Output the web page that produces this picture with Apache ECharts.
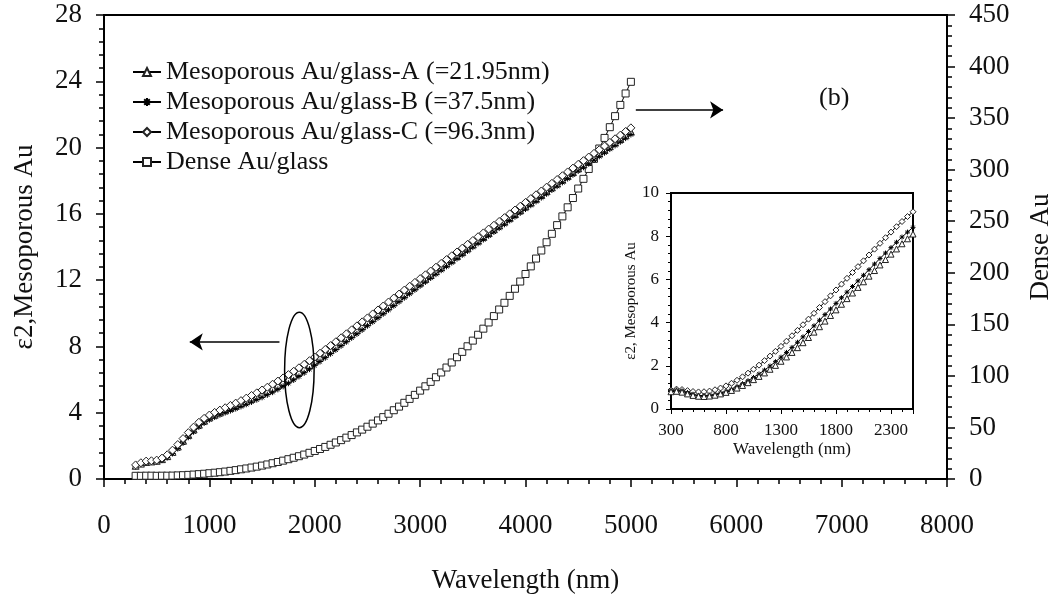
<!doctype html>
<html>
<head>
<meta charset="utf-8">
<title>ε2 Mesoporous Au / Dense Au</title>
<script src="https://cdn.jsdelivr.net/npm/echarts@6/dist/echarts.min.js"></script>
</head>
<body style="margin:0;background:#fff;">
<div id="container" style="width:1062px;height:599px;"></div>
<script type="text/javascript">
    // main plot, wavelength (nm)
    var wavelength = [300, 350, 400, 450, 500, 550, 600, 650, 700, 750, 800, 850, 900, 950, 1000,
        1050, 1100, 1150, 1200, 1250, 1300, 1350, 1400, 1450, 1500, 1550, 1600, 1650, 1700, 1750,
        1800, 1850, 1900, 1950, 2000, 2050, 2100, 2150, 2200, 2250, 2300, 2350, 2400, 2450, 2500,
        2550, 2600, 2650, 2700, 2750, 2800, 2850, 2900, 2950, 3000, 3050, 3100, 3150, 3200, 3250,
        3300, 3350, 3400, 3450, 3500, 3550, 3600, 3650, 3700, 3750, 3800, 3850, 3900, 3950, 4000,
        4050, 4100, 4150, 4200, 4250, 4300, 4350, 4400, 4450, 4500, 4550, 4600, 4650, 4700, 4750,
        4800, 4850, 4900, 4950, 5000];
    // ε2 mesoporous Au (left axis)
    var glassA = [0.80, 0.93, 1.03, 1.06, 1.10, 1.20, 1.38, 1.64, 1.96, 2.31, 2.66, 2.99, 3.28, 3.52, 3.72,
        3.88, 4.02, 4.15, 4.28, 4.41, 4.55, 4.69, 4.84, 4.99, 5.15, 5.31, 5.48, 5.66, 5.85, 6.04,
        6.24, 6.45, 6.66, 6.88, 7.10, 7.33, 7.56, 7.79, 8.02, 8.26, 8.50, 8.74, 8.98, 9.22, 9.46,
        9.70, 9.94, 10.18, 10.42, 10.66, 10.90, 11.14, 11.38, 11.62, 11.85, 12.08, 12.31, 12.54, 12.77, 13.00,
        13.23, 13.46, 13.69, 13.92, 14.15, 14.38, 14.61, 14.84, 15.07, 15.30, 15.53, 15.76, 15.99, 16.22, 16.45,
        16.68, 16.91, 17.14, 17.37, 17.60, 17.83, 18.06, 18.29, 18.52, 18.75, 18.98, 19.20, 19.42, 19.64, 19.86,
        20.08, 20.30, 20.52, 20.74, 20.96];
    var glassB = [0.76, 0.90, 1.00, 1.03, 1.06, 1.14, 1.30, 1.54, 1.84, 2.18, 2.52, 2.85, 3.14, 3.38, 3.58,
        3.74, 3.88, 4.01, 4.13, 4.25, 4.38, 4.51, 4.65, 4.79, 4.93, 5.08, 5.24, 5.41, 5.59, 5.78,
        5.98, 6.19, 6.41, 6.63, 6.86, 7.09, 7.32, 7.56, 7.80, 8.04, 8.28, 8.52, 8.76, 9.00, 9.25,
        9.49, 9.73, 9.97, 10.21, 10.46, 10.70, 10.94, 11.18, 11.42, 11.66, 11.89, 12.13, 12.36, 12.60, 12.83,
        13.06, 13.30, 13.53, 13.76, 13.99, 14.22, 14.45, 14.68, 14.91, 15.14, 15.37, 15.60, 15.83, 16.06, 16.29,
        16.52, 16.75, 16.98, 17.21, 17.44, 17.67, 17.90, 18.13, 18.36, 18.59, 18.81, 19.03, 19.25, 19.47, 19.69,
        19.91, 20.13, 20.35, 20.57, 20.79];
    var glassC = [0.85, 0.98, 1.08, 1.10, 1.14, 1.26, 1.46, 1.74, 2.08, 2.44, 2.80, 3.13, 3.42, 3.66, 3.86,
        4.02, 4.16, 4.30, 4.44, 4.58, 4.73, 4.88, 5.04, 5.20, 5.37, 5.54, 5.72, 5.91, 6.10, 6.30,
        6.50, 6.71, 6.92, 7.14, 7.36, 7.59, 7.82, 8.05, 8.28, 8.52, 8.76, 9.00, 9.24, 9.48, 9.72,
        9.96, 10.20, 10.44, 10.68, 10.92, 11.16, 11.40, 11.63, 11.86, 12.09, 12.32, 12.55, 12.78, 13.01, 13.24,
        13.47, 13.70, 13.93, 14.16, 14.39, 14.62, 14.85, 15.08, 15.31, 15.54, 15.77, 16.00, 16.23, 16.46, 16.69,
        16.92, 17.15, 17.38, 17.61, 17.84, 18.07, 18.30, 18.53, 18.76, 18.99, 19.21, 19.43, 19.65, 19.87, 20.09,
        20.31, 20.53, 20.75, 20.97, 21.19];
    // ε2 dense Au (right axis)
    var denseAu = [3.1, 3.1, 3.2, 3.2, 3.1, 3.2, 3.2, 3.3, 3.5, 3.7, 4.0, 4.3, 4.7, 5.1, 5.6,
        6.1, 6.6, 7.2, 7.9, 8.6, 9.4, 10.2, 11.1, 12.0, 13.0, 14.1, 15.3, 16.5, 17.8, 19.2,
        20.6, 22.1, 23.7, 25.4, 27.2, 29.1, 31.1, 33.2, 35.4, 37.7, 40.1, 42.6, 45.2, 47.9, 50.7,
        53.7, 56.8, 60.0, 63.3, 66.7, 70.2, 73.9, 77.7, 81.6, 85.7, 89.9, 94.2, 98.7, 103.3, 108.1,
        113.0, 118.1, 123.3, 128.7, 134.2, 139.9, 145.8, 151.8, 158.0, 164.4, 170.9, 177.6, 184.5, 191.5, 198.8,
        206.2, 213.8, 221.6, 229.6, 237.8, 246.2, 254.7, 263.5, 272.5, 281.7, 291.1, 300.7, 310.5, 320.5, 330.8,
        341.2, 351.9, 362.8, 373.9, 385.2];

    // inset
    var insetWavelength = [300, 350, 400, 450, 500, 550, 600, 650, 700, 750, 800, 850, 900, 950, 1000,
        1050, 1100, 1150, 1200, 1250, 1300, 1350, 1400, 1450, 1500, 1550, 1600, 1650, 1700, 1750,
        1800, 1850, 1900, 1950, 2000, 2050, 2100, 2150, 2200, 2250, 2300, 2350, 2400, 2450, 2500];
    var insetA = [0.80, 0.82, 0.78, 0.70, 0.63, 0.59, 0.58, 0.60, 0.64, 0.70, 0.77, 0.86, 0.97, 1.09, 1.22,
        1.36, 1.51, 1.67, 1.84, 2.02, 2.21, 2.41, 2.62, 2.84, 3.07, 3.31, 3.56, 3.81, 4.07, 4.33,
        4.59, 4.85, 5.11, 5.37, 5.63, 5.89, 6.15, 6.41, 6.67, 6.92, 7.17, 7.41, 7.65, 7.88, 8.10];
    var insetB = [0.85, 0.88, 0.84, 0.76, 0.68, 0.63, 0.62, 0.64, 0.68, 0.74, 0.82, 0.92, 1.04, 1.17, 1.31,
        1.46, 1.62, 1.80, 1.99, 2.19, 2.40, 2.62, 2.85, 3.09, 3.34, 3.59, 3.85, 4.11, 4.37, 4.63,
        4.89, 5.15, 5.41, 5.67, 5.93, 6.19, 6.45, 6.71, 6.97, 7.22, 7.47, 7.72, 7.96, 8.19, 8.41];
    var insetC = [0.88, 0.92, 0.90, 0.85, 0.81, 0.79, 0.80, 0.83, 0.89, 0.97, 1.07, 1.19, 1.33, 1.49, 1.66,
        1.84, 2.03, 2.24, 2.45, 2.67, 2.90, 3.14, 3.39, 3.64, 3.90, 4.16, 4.43, 4.70, 4.97, 5.24,
        5.51, 5.78, 6.05, 6.32, 6.59, 6.86, 7.13, 7.40, 7.67, 7.93, 8.19, 8.44, 8.68, 8.91, 9.13];

    var names = ['Mesoporous Au/glass-A (=21.95nm)', 'Mesoporous Au/glass-B (=37.5nm)',
        'Mesoporous Au/glass-C (=96.3nm)', 'Dense Au/glass'];

    var serif = "'Liberation Serif', 'Times New Roman', serif";
    var ink = '#111';
    var star = 'path://M5,0L5,10M0,5L10,5M1.5,1.5L8.5,8.5M8.5,1.5L1.5,8.5';
    var plain = function (v) { return String(v); };   // no thousands separator

    function pairs(xs, ys) {
        return xs.map(function (x, i) { return [x, ys[i]]; });
    }

    function mainAxisY(opt) {
        return Object.assign({
            type: 'value',
            gridIndex: 0,
            axisLine: { show: true, lineStyle: { color: '#000', width: 2 } },
            axisTick: { show: true, inside: false, length: 8, lineStyle: { color: '#000', width: 1.5 } },
            minorTick: { show: true, splitNumber: 5, length: 5, lineStyle: { color: '#000', width: 1.5 } },
            splitLine: { show: false },
            axisLabel: { fontFamily: serif, fontSize: 27, color: ink, margin: 22, formatter: plain },
            nameLocation: 'middle',
            nameRotate: 90,
            nameTextStyle: { fontFamily: serif, fontSize: 27, color: ink }
        }, opt);
    }

    function lineSeries(name, data, symbol, size, xi, yi, extra) {
        return Object.assign({
            name: name,
            type: 'line',
            xAxisIndex: xi,
            yAxisIndex: yi,
            data: data,
            symbol: symbol,
            symbolSize: size,
            showAllSymbol: true,
            lineStyle: { color: '#000', width: 1 },
            itemStyle: { color: '#fff', borderColor: '#222', borderWidth: 1 },
            emphasis: { disabled: true },
            z: 3
        }, extra || {});
    }

    var option = {
        animation: false,
        backgroundColor: '#fff',
        grid: [
            { left: 104, top: 15, width: 846, height: 464, show: true, borderColor: '#000', borderWidth: 2 },
            { left: 671, top: 193, width: 242, height: 216, show: true, borderColor: '#000', borderWidth: 2, backgroundColor: '#fff', z: 5 }
        ],
        legend: {
            orient: 'vertical',
            left: 127,
            top: 54,
            itemWidth: 28,
            itemHeight: 10,
            itemGap: 4,
            data: names,
            textStyle: { fontFamily: serif, fontSize: 26, color: ink, lineHeight: 26 }
        },
        xAxis: [
            {
                type: 'value', gridIndex: 0, min: 0, max: 8000, interval: 1000,
                axisLine: { show: true, lineStyle: { color: '#000', width: 2 } },
                axisTick: { show: true, inside: false, length: 8, lineStyle: { color: '#000', width: 1.5 } },
                minorTick: { show: true, splitNumber: 5, length: 5, lineStyle: { color: '#000', width: 1.5 } },
                splitLine: { show: false },
                axisLabel: { fontFamily: serif, fontSize: 27, color: ink, margin: 33, formatter: plain },
                name: 'Wavelength (nm)',
                nameLocation: 'middle',
                nameGap: 88,
                nameTextStyle: { fontFamily: serif, fontSize: 27, color: ink }
            },
            {
                type: 'value', gridIndex: 1, min: 300, max: 2500, interval: 500,
                axisLine: { show: true, lineStyle: { color: '#000', width: 2 } },
                axisTick: { show: true, inside: false, length: 5, lineStyle: { color: '#000', width: 1 } },
                minorTick: { show: true, splitNumber: 5, length: 3, lineStyle: { color: '#000', width: 1 } },
                splitLine: { show: false },
                axisLabel: { fontFamily: serif, fontSize: 17, color: ink, margin: 13, showMaxLabel: false, formatter: plain },
                name: 'Wavelength (nm)',
                nameLocation: 'middle',
                nameGap: 32,
                nameTextStyle: { fontFamily: serif, fontSize: 17, color: ink }
            }
        ],
        yAxis: [
            mainAxisY({ min: 0, max: 28, interval: 4, position: 'left', name: 'ε2,Mesoporous Au', nameGap: 66 }),
            mainAxisY({ min: 0, max: 450, interval: 50, position: 'right', name: 'Dense Au', nameGap: 80 }),
            {
                type: 'value', gridIndex: 1, min: 0, max: 10, interval: 2,
                axisLine: { show: true, lineStyle: { color: '#000', width: 2 } },
                axisTick: { show: true, inside: false, length: 5, lineStyle: { color: '#000', width: 1 } },
                minorTick: { show: true, splitNumber: 5, length: 3, lineStyle: { color: '#000', width: 1 } },
                splitLine: { show: false },
                axisLabel: { fontFamily: serif, fontSize: 17, color: ink, margin: 12 },
                name: 'ε2, Mesoporous Au',
                nameLocation: 'middle',
                nameRotate: 90,
                nameGap: 28,
                nameTextStyle: { fontFamily: serif, fontSize: 15, color: ink }
            }
        ],
        series: [
            lineSeries(names[3], pairs(wavelength, denseAu), 'rect', 7, 0, 1),
            lineSeries(names[0], pairs(wavelength, glassA), 'triangle', 7, 0, 0, {
                markLine: {
                    silent: true,
                    symbol: ['none', 'arrow'],
                    symbolSize: 13,
                    label: { show: false },
                    itemStyle: { color: '#000' },
                    lineStyle: { color: '#000', width: 1.5, type: 'solid' },
                    emphasis: { disabled: true },
                    data: [
                        [{ coord: [1665, 8.27] }, { coord: [814, 8.27] }],
                        [{ coord: [5047, 22.27] }, { coord: [5875, 22.27] }]
                    ]
                }
            }),
            lineSeries(names[1], pairs(wavelength, glassB), star, 6, 0, 0, {
                lineStyle: { color: '#000', width: 1.6 },
                itemStyle: { color: '#000', borderColor: '#000', borderWidth: 1 }
            }),
            lineSeries(names[2], pairs(wavelength, glassC), 'diamond', 8, 0, 0),
            lineSeries('inset-C', pairs(insetWavelength, insetC), 'diamond', 6, 1, 2, { z: 6 }),
            lineSeries('inset-B', pairs(insetWavelength, insetB), star, 5, 1, 2, {
                z: 6, itemStyle: { color: '#000', borderColor: '#000', borderWidth: 1 }
            }),
            lineSeries('inset-A', pairs(insetWavelength, insetA), 'triangle', 6, 1, 2, { z: 6 })
        ]
    };

    var myChart = echarts.init(document.getElementById('container'));
    myChart.setOption(option);

    // ellipse round the mesoporous curves and the (b) tag
    var c0 = myChart.convertToPixel({ gridIndex: 0 }, [1714, 3.1]);
    var c1 = myChart.convertToPixel({ gridIndex: 0 }, [1994, 10.06]);
    var tag = myChart.convertToPixel({ gridIndex: 0 }, [6930, 23]);
    myChart.setOption({
        graphic: [
            {
                type: 'ellipse',
                shape: { cx: (c0[0] + c1[0]) / 2, cy: (c0[1] + c1[1]) / 2, rx: Math.abs(c1[0] - c0[0]) / 2, ry: Math.abs(c1[1] - c0[1]) / 2 },
                style: { fill: 'none', stroke: '#000', lineWidth: 1.5 },
                z: 10
            },
            {
                type: 'text',
                x: tag[0], y: tag[1],
                style: { text: '(b)', fontFamily: serif, fontSize: 26, fill: ink, align: 'center', verticalAlign: 'middle' },
                z: 10
            }
        ]
    });
</script>
</body>
</html>
